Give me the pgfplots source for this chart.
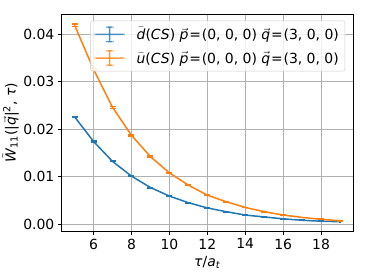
\documentclass[border=0pt]{standalone}
\usepackage{fontspec}
\setmainfont{DejaVu Sans}
\setsansfont{DejaVu Sans}
\usepackage{pgfplots}
\pgfplotsset{compat=1.18}
\usepackage{pgfplotstable}
\definecolor{cblue}{HTML}{1F77B4}
\definecolor{corange}{HTML}{FF7F0E}
\definecolor{gridgray}{HTML}{B0B0B0}
\newcommand{\mi}[1]{\textit{#1}}
\newcommand{\vv}[1]{$\vec{\mbox{\textit{#1}}}$}
\newcommand{\eq}{\hspace{0.06em}=\hspace{0.06em}}
\pgfplotstableread{
x   yd      ed      yu      eu
5   0.0226  0.00015 0.0419  0.00025
6   0.0174  0.00012 0.0326  0.00020
7   0.0132  0.00010 0.0246  0.00018
8   0.0101  0.00009 0.0187  0.00015
9   0.0077  0.00008 0.0142  0.00013
10  0.0059  0.00007 0.0108  0.00011
11  0.0045  0.00006 0.0082  0.00010
12  0.0034  0.00005 0.0061  0.00009
13  0.0026  0.00005 0.0047  0.00008
14  0.0019  0.00004 0.0035  0.00007
15  0.0015  0.00004 0.0026  0.00006
16  0.0011  0.00004 0.0019  0.00006
17  0.0008  0.00004 0.0014  0.00005
18  0.0006  0.00004 0.0010  0.00005
19  0.0005  0.00004 0.0007  0.00005
}\datatable
\newcommand{\ebimage}[1]{%
  \path[fill=#1, draw=none] (0bp,-0.75bp) rectangle (30bp,0.75bp);
  \path[fill=#1, draw=none] (14.25bp,-7.2bp) rectangle (15.75bp,7.2bp);
  \path[fill=#1, draw=none] (11.4bp,-7.9bp) rectangle (18.6bp,-6.5bp);
  \path[fill=#1, draw=none] (11.4bp,6.5bp) rectangle (18.6bp,7.9bp);
}
\begin{document}
\begin{tikzpicture}
\begin{axis}[
  scale only axis,
  width=292.3bp, height=218bp,
  xmin=4.3, xmax=19.7,
  ymin=-0.00162, ymax=0.04427,
  xtick={6,8,10,12,14,16,18},
  ytick={0,0.01,0.02,0.03,0.04},
  yticklabel style={/pgf/number format/fixed,/pgf/number format/precision=2,/pgf/number format/fixed zerofill},
  scaled y ticks=false,
  /pgf/number format/assume math mode=true,
  tick label style={font=\fontsize{14}{16}\selectfont},
  label style={font=\fontsize{14}{16}\selectfont},
  tick align=outside,
  xtick pos=bottom, ytick pos=left,
  major tick length=3.5bp,
  tick style={black, line width=0.8bp},
  axis line style={black, line width=0.8bp},
  grid=major,
  major grid style={gridgray, line width=0.8bp},
  xlabel={\mi{τ}/\mi{a}\textsubscript{\mi{t}}},
  ylabel={$\tilde{\mbox{\textit{W}}}$\textsubscript{11}(|\vv{q}|\textsuperscript{2}, \mi{τ})},
  xlabel style={at={(axis description cs:0.5,0)}, anchor=north, yshift=-21bp},
  ylabel style={at={(axis description cs:0,0.5)}, anchor=south, xshift=0bp, yshift=39bp},
  legend style={at={(1,1)}, anchor=north east, xshift=-8.3bp, yshift=-6.7bp,
    draw=black!20, fill=white, fill opacity=0.8, text opacity=1, rounded corners=2bp,
    font=\fontsize{14}{16}\selectfont, inner xsep=4bp, inner ysep=4.5bp,
    row sep=6bp,
    /tikz/every odd column/.append style={column sep=10bp}},
  legend cell align=left,
]
\addlegendimage{cblue, draw=none, legend image code/.code={\ebimage{cblue}}}
\addlegendentry{$\bar{\mbox{\textit{d}}}$(\mi{CS}) \vv{p}\eq(0, 0, 0) \vv{q}\eq(3, 0, 0)}
\addlegendimage{corange, draw=none, legend image code/.code={\ebimage{corange}}}
\addlegendentry{$\bar{\mbox{\textit{u}}}$(\mi{CS}) \vv{p}\eq(0, 0, 0) \vv{q}\eq(3, 0, 0)}
\addplot[forget plot, cblue, line width=1.5bp, mark=none,
  error bars/.cd, y dir=both, y explicit,
  error bar style={line width=1.2bp},
  error mark options={rotate=90, mark size=3bp, line width=1.2bp}]
  table[x=x, y=yd, y error=ed] {\datatable};
\addplot[forget plot, corange, line width=1.5bp, mark=none,
  error bars/.cd, y dir=both, y explicit,
  error bar style={line width=1.2bp},
  error mark options={rotate=90, mark size=3bp, line width=1.2bp}]
  table[x=x, y=yu, y error=eu] {\datatable};
\end{axis}
\pgfresetboundingbox
\path (current axis.south west) ++(-61.4bp,-48bp) coordinate (bbA);
\path (current axis.north east) ++(20.7bp,14bp) coordinate (bbB);
\useasboundingbox (bbA) rectangle (bbB);
\end{tikzpicture}
\end{document}
